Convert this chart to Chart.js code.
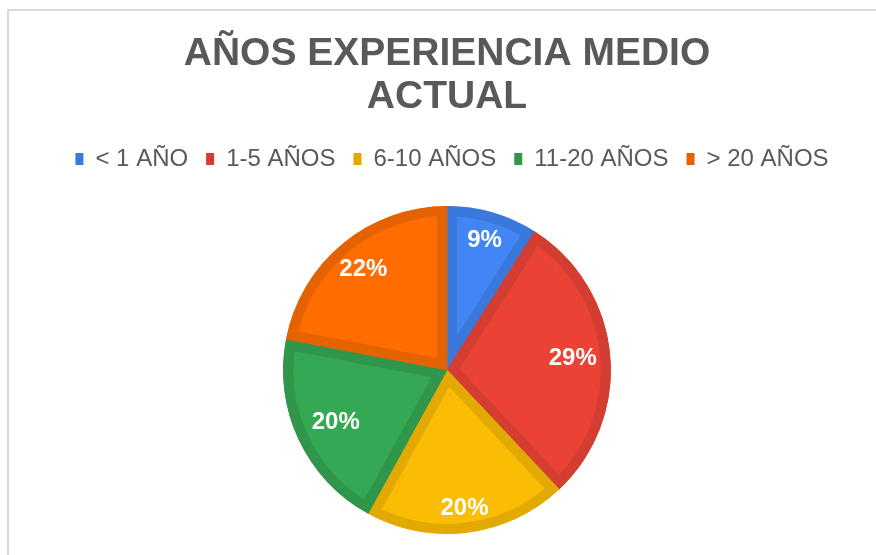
<!DOCTYPE html>
<html>
<head>
<meta charset="utf-8">
<script src="https://cdn.jsdelivr.net/npm/chart.js@4/dist/chart.umd.min.js"></script>
<style>
  html, body { margin: 0; padding: 0; background: #ffffff; }
  #wrap { position: relative; width: 876px; height: 555px; overflow: hidden; }
  #frame { position: absolute; left: 7px; top: 9px; width: 900px; height: 600px;
           border-top: 2px solid #d9d9d9; border-left: 2px solid #d9d9d9; box-sizing: border-box; }
  canvas { position: absolute; left: 0; top: 0; }
</style>
</head>
<body>
<div id="wrap">
  <div id="frame"></div>
  <canvas id="c" width="876" height="555"></canvas>
</div>
<script>
const titleLines = ['AÑOS EXPERIENCIA MEDIO', 'ACTUAL'];
const categories = ['< 1 AÑO', '1-5 AÑOS', '6-10 AÑOS', '11-20 AÑOS', '> 20 AÑOS'];
const values = [9, 29, 20, 20, 22];
const fillColors = ['#4285F4', '#EA4335', '#FBBC04', '#34A853', '#FF6D01'];
const edgeColors = ['#3B78DC', '#D33D32', '#E2A903', '#2F964B', '#E56201'];
const labelRadius = [0.82, 0.77, 0.85, 0.75, 0.80];

const FONT = '"Liberation Sans", Arial, sans-serif';

const pctLabels = {
  id: 'pctLabels',
  afterDatasetsDraw(chart) {
    const ctx = chart.ctx;
    const meta = chart.getDatasetMeta(0);
    const total = values.reduce((a, b) => a + b, 0);
    ctx.save();
    ctx.fillStyle = '#ffffff';
    ctx.font = 'bold 24px ' + FONT;
    ctx.textAlign = 'center';
    ctx.textBaseline = 'middle';
    meta.data.forEach((arc, i) => {
      const p = arc.getProps(['x', 'y', 'startAngle', 'endAngle', 'outerRadius'], true);
      const mid = (p.startAngle + p.endAngle) / 2;
      const r = p.outerRadius * labelRadius[i];
      const txt = Math.round(values[i] / total * 100) + '%';
      ctx.fillText(txt, p.x + Math.cos(mid) * r, p.y + Math.sin(mid) * r);
    });
    ctx.restore();
  }
};

const legendShift = {
  id: 'legendShift',
  afterLayout(chart) {
    if (chart.legend) { chart.legend.left += 10; chart.legend.right += 0; }
  }
};

new Chart(document.getElementById('c'), {
  type: 'pie',
  data: {
    labels: categories,
    datasets: [{
      data: values,
      backgroundColor: fillColors,
      borderColor: edgeColors,
      borderWidth: 10,
      borderAlign: 'inner'
    }]
  },
  options: {
    responsive: false,
    animation: false,
    layout: { padding: { left: 18, right: 0, top: 0, bottom: 21 } },
    plugins: {
      tooltip: { enabled: false },
      title: {
        display: true,
        text: titleLines,
        color: '#595959',
        font: { family: FONT, size: 39, weight: 'bold', lineHeight: 1.1 },
        padding: { top: 32.5, bottom: 10.7 }
      },
      subtitle: {
        display: true,
        text: ' ',
        weight: 500,
        font: { size: 1, lineHeight: 1 },
        padding: { top: 24, bottom: 0 }
      },
      legend: {
        display: true,
        position: 'top',
        labels: {
          color: '#595959',
          font: { family: FONT, size: 24 },
          boxWidth: 8,
          boxHeight: 12,
          padding: 18,
          generateLabels(chart) {
            const items = Chart.overrides.pie.plugins.legend.labels.generateLabels(chart);
            items.forEach((it, i) => { it.fillStyle = edgeColors[i]; it.strokeStyle = edgeColors[i]; it.lineWidth = 0; });
            return items;
          }
        }
      }
    }
  },
  plugins: [pctLabels, legendShift]
});
</script>
</body>
</html>
